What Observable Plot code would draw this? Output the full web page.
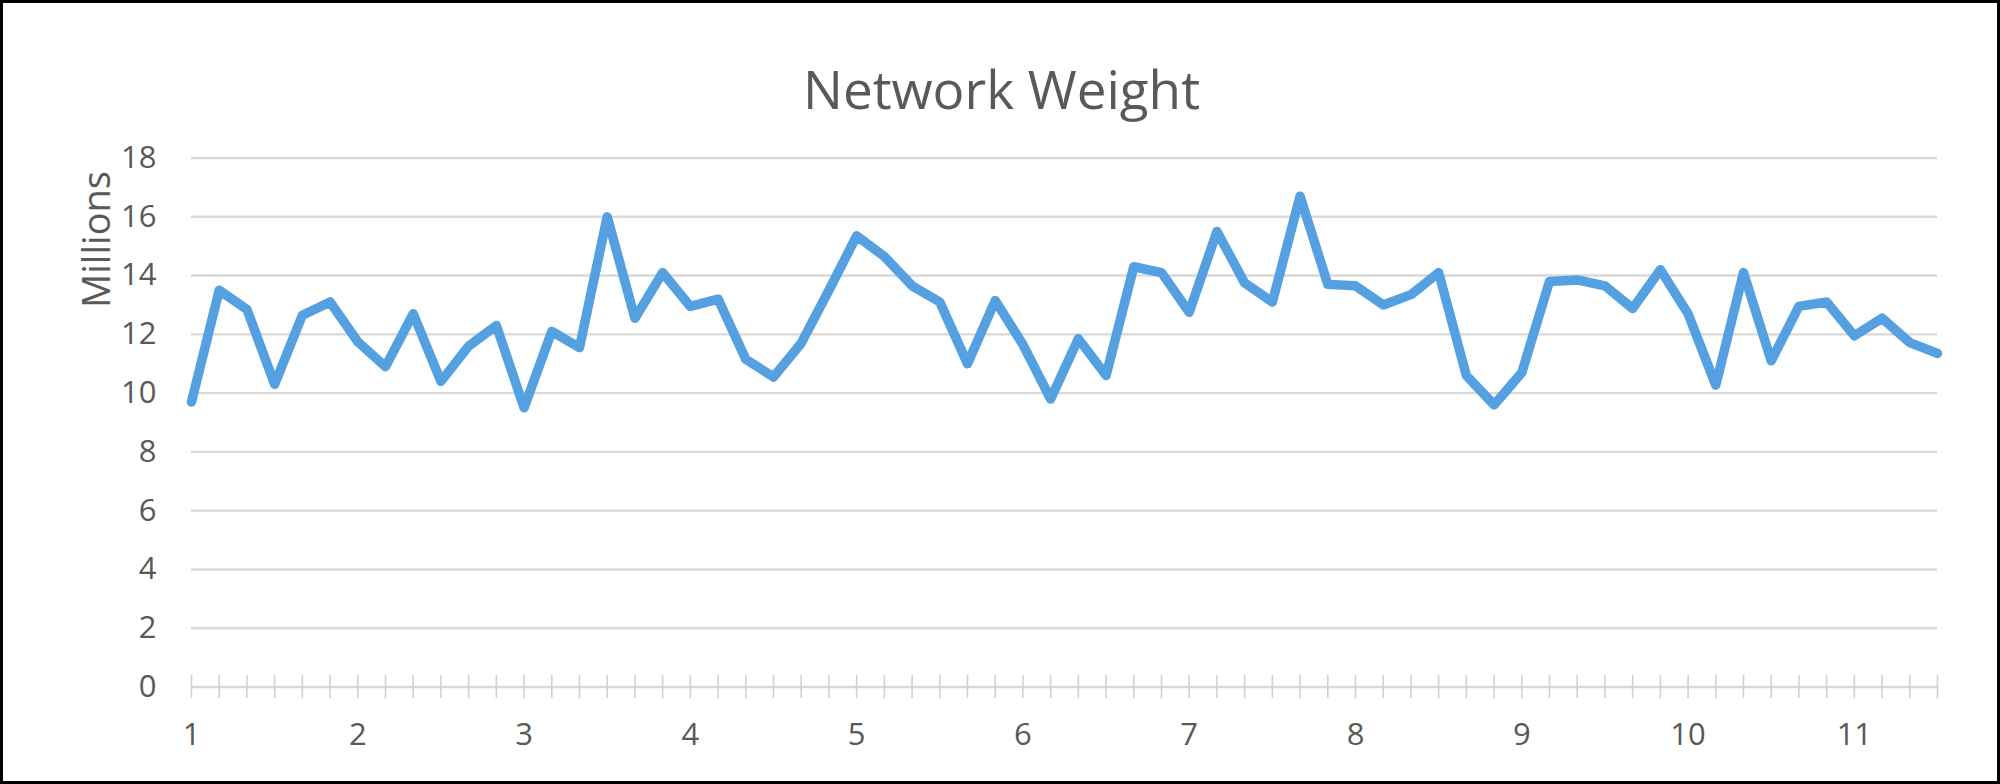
<!DOCTYPE html>
<html>
<head>
<meta charset="utf-8">
<script src="https://cdn.jsdelivr.net/npm/d3@7"></script>
<script src="https://cdn.jsdelivr.net/npm/@observablehq/plot@0.6"></script>
<style>
  html, body { margin: 0; padding: 0; background: #fff; }
  #chart { width: 2000px; height: 784px; }
  #chart svg { display: block; outline: 3px solid #000; outline-offset: -3px; }
</style>
</head>
<body>
<div id="chart"></div>
<script>
// Network weight (millions), one value per category
const values = [
  9.7, 13.5, 12.85, 10.3, 12.65, 13.1, 11.75, 10.9, 12.7, 10.4,
  11.6, 12.3, 9.5, 12.1, 11.55, 16.0, 12.55, 14.1, 12.95, 13.2,
  11.15, 10.55, 11.7, 13.5, 15.35, 14.65, 13.65, 13.1, 11.0, 13.15,
  11.65, 9.8, 11.85, 10.6, 14.3, 14.1, 12.75, 15.5, 13.75, 13.1,
  16.7, 13.7, 13.65, 13.0, 13.35, 14.1, 10.6, 9.6, 10.7, 13.8,
  13.85, 13.65, 12.88, 14.2, 12.7, 10.27, 14.1, 11.1, 12.95, 13.1,
  11.95, 12.55, 11.72, 11.35
];
const xLabels = ["1", "2", "3", "4", "5", "6", "7", "8", "9", "10", "11"];
const labelEvery = 6;
const yTicks = [0, 2, 4, 6, 8, 10, 12, 14, 16, 18];
const gridValues = [2, 4, 6, 8, 10, 12, 14, 16, 18];
const titleText = "Network Weight";
const yTitle = "Millions";

const data = values.map((v, i) => ({i, v}));
const categoryIdx = values.map((v, i) => i);
const labelIdx = xLabels.map((l, k) => k * labelEvery);

const gray = "#595959";
const font = "'Open Sans', 'Noto Sans', sans-serif";

const chart = Plot.plot({
  width: 2000,
  height: 784,
  marginLeft: 191,
  marginRight: 63,
  marginTop: 157.5,
  marginBottom: 97.5,
  style: {fontFamily: font, fontSize: "31px", color: gray, background: "#fff", overflow: "visible"},
  x: {domain: [0, values.length - 1], ticks: labelIdx, tickFormat: d => xLabels[d / labelEvery], tickSize: 0, tickPadding: 36, label: null},
  y: {domain: [0, 18], ticks: yTicks, tickSize: 0, tickPadding: 35, label: null},
  marks: [
    Plot.ruleY(gridValues, {stroke: "#d9d9d9", strokeWidth: 2.4}),
    Plot.ruleY([0], {stroke: "#d9d9d9", strokeWidth: 2.4}),
    Plot.ruleX(categoryIdx, {x: d => d, y1: 0, y2: 0, insetTop: -11.5, insetBottom: -11.5, stroke: "#d0d0d0", strokeWidth: 1.6}),
    Plot.lineY(data, {x: "i", y: "v", stroke: "#55a0e1", strokeWidth: 9.5, strokeLinejoin: "round", strokeLinecap: "round"}),
    Plot.text([titleText], {frameAnchor: "top", dx: -63, dy: -86.5, fontSize: 53, fill: gray, fontFamily: font}),
    Plot.text([yTitle], {frameAnchor: "top-left", dx: -108, dy: 81.5, rotate: -90, fontSize: 38, fill: gray, fontFamily: font, textAnchor: "middle"})
  ]
});
document.getElementById("chart").append(chart);
</script>
</body>
</html>
